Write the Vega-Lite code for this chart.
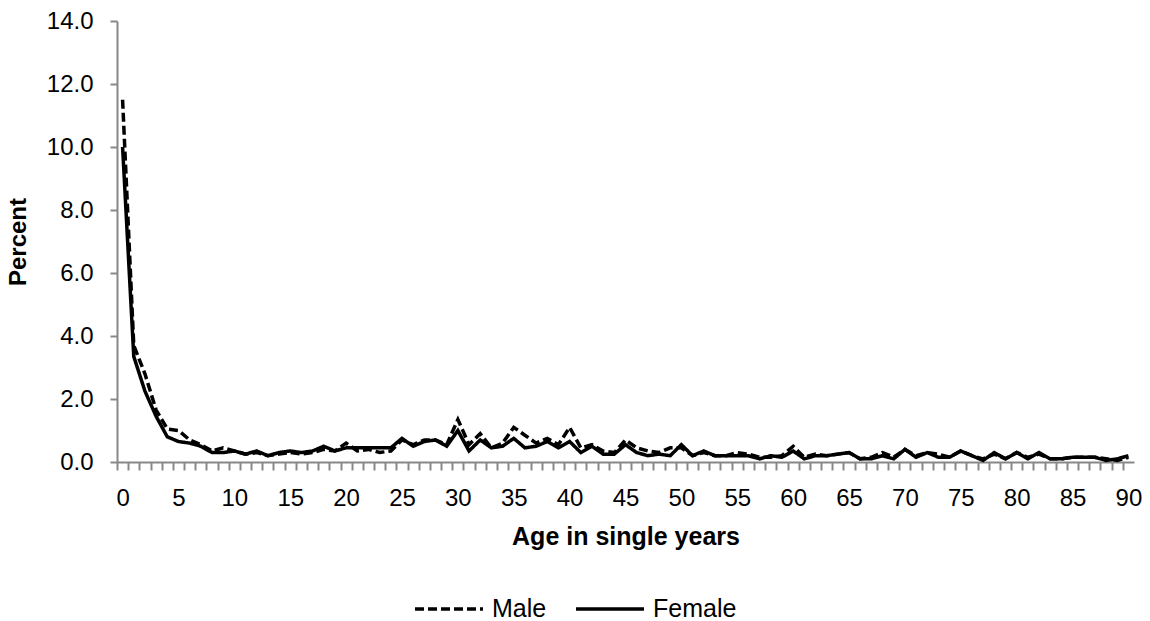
{
  "$schema": "https://vega.github.io/schema/vega-lite/v6.json",
  "width": 1017,
  "height": 441,
  "autosize": "none",
  "padding": {"left": 117, "top": 21, "right": 16, "bottom": 159},
  "background": "white",
  "config": {
    "view": {"stroke": null},
    "font": "Liberation Sans"
  },
  "data": {
    "values": [
      {"age": 0, "Male": 11.5, "Female": 10.0},
      {"age": 1, "Male": 3.7, "Female": 3.35},
      {"age": 2, "Male": 2.8, "Female": 2.25},
      {"age": 3, "Male": 1.65, "Female": 1.45},
      {"age": 4, "Male": 1.05, "Female": 0.8},
      {"age": 5, "Male": 1.0, "Female": 0.65},
      {"age": 6, "Male": 0.7, "Female": 0.6},
      {"age": 7, "Male": 0.55, "Female": 0.5},
      {"age": 8, "Male": 0.35, "Female": 0.3},
      {"age": 9, "Male": 0.45, "Female": 0.3},
      {"age": 10, "Male": 0.35, "Female": 0.35},
      {"age": 11, "Male": 0.25, "Female": 0.25},
      {"age": 12, "Male": 0.3, "Female": 0.35},
      {"age": 13, "Male": 0.2, "Female": 0.2},
      {"age": 14, "Male": 0.25, "Female": 0.3},
      {"age": 15, "Male": 0.3, "Female": 0.35},
      {"age": 16, "Male": 0.25, "Female": 0.3},
      {"age": 17, "Male": 0.3, "Female": 0.35},
      {"age": 18, "Male": 0.4, "Female": 0.5},
      {"age": 19, "Male": 0.35, "Female": 0.35},
      {"age": 20, "Male": 0.6, "Female": 0.45},
      {"age": 21, "Male": 0.35, "Female": 0.45},
      {"age": 22, "Male": 0.4, "Female": 0.45},
      {"age": 23, "Male": 0.3, "Female": 0.45},
      {"age": 24, "Male": 0.35, "Female": 0.45},
      {"age": 25, "Male": 0.7, "Female": 0.75},
      {"age": 26, "Male": 0.55, "Female": 0.5},
      {"age": 27, "Male": 0.7, "Female": 0.65},
      {"age": 28, "Male": 0.7, "Female": 0.7},
      {"age": 29, "Male": 0.55, "Female": 0.5},
      {"age": 30, "Male": 1.35, "Female": 1.0},
      {"age": 31, "Male": 0.55, "Female": 0.35},
      {"age": 32, "Male": 0.9, "Female": 0.7},
      {"age": 33, "Male": 0.45, "Female": 0.45},
      {"age": 34, "Male": 0.6, "Female": 0.5},
      {"age": 35, "Male": 1.1, "Female": 0.75},
      {"age": 36, "Male": 0.85, "Female": 0.45},
      {"age": 37, "Male": 0.6, "Female": 0.5},
      {"age": 38, "Male": 0.75, "Female": 0.65},
      {"age": 39, "Male": 0.55, "Female": 0.45},
      {"age": 40, "Male": 1.1, "Female": 0.65},
      {"age": 41, "Male": 0.45, "Female": 0.3},
      {"age": 42, "Male": 0.55, "Female": 0.5},
      {"age": 43, "Male": 0.35, "Female": 0.25},
      {"age": 44, "Male": 0.3, "Female": 0.25},
      {"age": 45, "Male": 0.7, "Female": 0.55},
      {"age": 46, "Male": 0.45, "Female": 0.3},
      {"age": 47, "Male": 0.35, "Female": 0.2},
      {"age": 48, "Male": 0.3, "Female": 0.25},
      {"age": 49, "Male": 0.45, "Female": 0.2},
      {"age": 50, "Male": 0.45, "Female": 0.55},
      {"age": 51, "Male": 0.2, "Female": 0.2},
      {"age": 52, "Male": 0.3, "Female": 0.35},
      {"age": 53, "Male": 0.2, "Female": 0.2},
      {"age": 54, "Male": 0.2, "Female": 0.2},
      {"age": 55, "Male": 0.3, "Female": 0.2},
      {"age": 56, "Male": 0.25, "Female": 0.2},
      {"age": 57, "Male": 0.15, "Female": 0.1},
      {"age": 58, "Male": 0.15, "Female": 0.2},
      {"age": 59, "Male": 0.2, "Female": 0.15},
      {"age": 60, "Male": 0.5, "Female": 0.35},
      {"age": 61, "Male": 0.15, "Female": 0.1},
      {"age": 62, "Male": 0.25, "Female": 0.2},
      {"age": 63, "Male": 0.2, "Female": 0.2},
      {"age": 64, "Male": 0.25, "Female": 0.25},
      {"age": 65, "Male": 0.3, "Female": 0.3},
      {"age": 66, "Male": 0.1, "Female": 0.1},
      {"age": 67, "Male": 0.15, "Female": 0.1},
      {"age": 68, "Male": 0.3, "Female": 0.2},
      {"age": 69, "Male": 0.15, "Female": 0.1},
      {"age": 70, "Male": 0.4, "Female": 0.4},
      {"age": 71, "Male": 0.2, "Female": 0.15},
      {"age": 72, "Male": 0.3, "Female": 0.3},
      {"age": 73, "Male": 0.25, "Female": 0.15},
      {"age": 74, "Male": 0.15, "Female": 0.15},
      {"age": 75, "Male": 0.35, "Female": 0.35},
      {"age": 76, "Male": 0.2, "Female": 0.2},
      {"age": 77, "Male": 0.1, "Female": 0.05},
      {"age": 78, "Male": 0.25, "Female": 0.3},
      {"age": 79, "Male": 0.1, "Female": 0.1},
      {"age": 80, "Male": 0.3, "Female": 0.3},
      {"age": 81, "Male": 0.15, "Female": 0.1},
      {"age": 82, "Male": 0.25, "Female": 0.3},
      {"age": 83, "Male": 0.1, "Female": 0.1},
      {"age": 84, "Male": 0.1, "Female": 0.1},
      {"age": 85, "Male": 0.15, "Female": 0.15},
      {"age": 86, "Male": 0.15, "Female": 0.15},
      {"age": 87, "Male": 0.15, "Female": 0.15},
      {"age": 88, "Male": 0.1, "Female": 0.05},
      {"age": 89, "Male": 0.05, "Female": 0.1},
      {"age": 90, "Male": 0.15, "Female": 0.2}
    ]
  },
  "transform": [
    {"fold": ["Male", "Female"], "as": ["sex", "pct"]}
  ],
  "mark": {"type": "line", "strokeWidth": 3.5, "color": "black", "strokeJoin": "miter", "clip": false},
  "encoding": {
    "x": {
      "field": "age",
      "type": "quantitative",
      "scale": {"domain": [-0.5, 90.5], "nice": false, "zero": false},
      "axis": {
        "title": "Age in single years",
        "titleFont": "Liberation Sans",
        "titleFontSize": 25,
        "titleFontWeight": "bold",
        "titleColor": "black",
        "titlePadding": 14,
        "values": [0, 1, 2, 3, 4, 5, 6, 7, 8, 9, 10, 11, 12, 13, 14, 15, 16, 17, 18, 19, 20, 21, 22, 23, 24, 25, 26, 27, 28, 29, 30, 31, 32, 33, 34, 35, 36, 37, 38, 39, 40, 41, 42, 43, 44, 45, 46, 47, 48, 49, 50, 51, 52, 53, 54, 55, 56, 57, 58, 59, 60, 61, 62, 63, 64, 65, 66, 67, 68, 69, 70, 71, 72, 73, 74, 75, 76, 77, 78, 79, 80, 81, 82, 83, 84, 85, 86, 87, 88, 89, 90, 91],
        "labelExpr": "datum.value % 5 == 0 && datum.value <= 90 ? datum.label : ''",
        "tickOffset": -5.588,
        "labelOffset": 5.588,
        "labelFont": "Liberation Sans",
        "labelFontSize": 24,
        "labelColor": "black",
        "labelPadding": 16,
        "labelFlush": false,
        "labelOverlap": false,
        "labelBound": false,
        "tickColor": "#888888",
        "tickSize": 8,
        "tickWidth": 2,
        "domainColor": "#888888",
        "domainWidth": 2,
        "grid": false
      }
    },
    "y": {
      "field": "pct",
      "type": "quantitative",
      "scale": {"domain": [0, 14], "nice": false},
      "axis": {
        "title": "Percent",
        "titleFont": "Liberation Sans",
        "titleFontSize": 24,
        "titleFontWeight": "bold",
        "titleColor": "black",
        "titlePadding": 16,
        "values": [0, 2, 4, 6, 8, 10, 12, 14],
        "format": ".1f",
        "labelFont": "Liberation Sans",
        "labelFontSize": 24,
        "labelColor": "black",
        "labelPadding": 17,
        "tickColor": "#888888",
        "tickSize": 7,
        "tickWidth": 2,
        "domainColor": "#888888",
        "domainWidth": 2,
        "grid": false
      }
    },
    "strokeDash": {
      "field": "sex",
      "type": "nominal",
      "scale": {"domain": ["Male", "Female"], "range": [[9, 4], [1, 0]]},
      "legend": {
        "title": null,
        "orient": "none",
        "direction": "horizontal",
        "legendX": 296,
        "legendY": 552,
        "padding": 0,
        "symbolType": "stroke",
        "symbolSize": 4624,
        "symbolStrokeWidth": 3.5,
        "symbolStrokeColor": "black",
        "labelFont": "Liberation Sans",
        "labelFontSize": 25,
        "labelColor": "black",
        "labelOffset": 7,
        "columnPadding": 22
      }
    }
  }
}
